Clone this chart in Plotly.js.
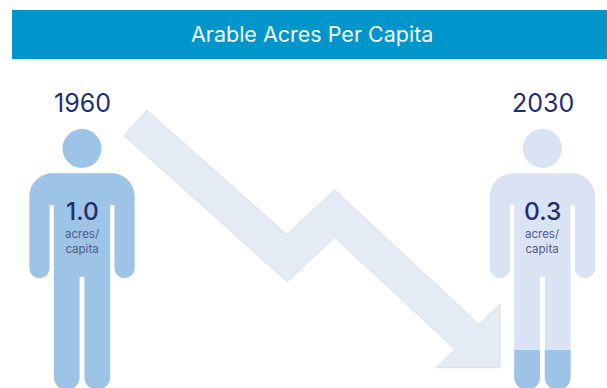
<!DOCTYPE html>
<html>
<head>
<meta charset="utf-8">
<script src="https://cdn.plot.ly/plotly-3.0.1.min.js"></script>
<style>html,body{margin:0;padding:0;background:#fff;overflow:hidden}</style>
</head>
<body>
<div id="chart" style="width:607px;height:388px"></div>
<script>
// Values shown on the graphic
const chartTitle = 'Arable Acres Per Capita';
const years = ['1960', '2030'];
const acresPerCapita = [1.0, 0.3];
const unitLabel = 'acres/<br>capita';
const figureColors = ['#9DC3E6', '#DAE3F3'];
// Share of the 2030 figure's height shaded at the feet
const shadedShare = [1, 0.147];

const NAVY = '#222E6E', MUTED = '#4E5C8E', SHADE = '#9DC3E6';
const figureCentres = [82, 542.4];
const HEAD_TOP = 129, FIGURE_BOTTOM = 388;

// Rounded pictogram outline, relative to the figure's centre line
function bodyPath(c) {
  const k = 0.55, top = 173.3, sh = 52.6, r = 23, arm = 20.2, gap = 28.2;
  const armEnd = 278, pit = 205, crotch = 276.7, inner = 2.4, lr = 13, foot = 390;
  const X = d => (c + d).toFixed(1);
  return [
    `M${X(-sh + r)},${top}`, `L${X(sh - r)},${top}`,
    `C${X(sh - r + r * k)},${top} ${X(sh)},${top + r - r * k} ${X(sh)},${top + r}`,
    `L${X(sh)},${armEnd - arm / 2}`,
    `C${X(sh)},${armEnd - arm / 2 + arm * k / 2} ${X(sh - arm / 2 + arm * k / 2)},${armEnd} ${X(sh - arm / 2)},${armEnd}`,
    `C${X(sh - arm / 2 - arm * k / 2)},${armEnd} ${X(sh - arm)},${armEnd - arm / 2 + arm * k / 2} ${X(sh - arm)},${armEnd - arm / 2}`,
    `L${X(sh - arm)},${pit}`, `L${X(gap)},${pit}`,
    `L${X(gap)},${foot - lr}`,
    `C${X(gap)},${foot - lr + lr * k} ${X(gap - lr + lr * k)},${foot} ${X(gap - lr)},${foot}`,
    `C${X(gap - lr - lr * k)},${foot} ${X(inner)},${foot - lr + lr * k} ${X(inner)},${foot - lr}`,
    `L${X(inner)},${crotch}`, `L${X(-inner)},${crotch}`,
    `L${X(-inner)},${foot - lr}`,
    `C${X(-inner)},${foot - lr + lr * k} ${X(-gap + lr + lr * k)},${foot} ${X(-gap + lr)},${foot}`,
    `C${X(-gap + lr - lr * k)},${foot} ${X(-gap)},${foot - lr + lr * k} ${X(-gap)},${foot - lr}`,
    `L${X(-gap)},${pit}`, `L${X(-sh + arm)},${pit}`,
    `L${X(-sh + arm)},${armEnd - arm / 2}`,
    `C${X(-sh + arm)},${armEnd - arm / 2 + arm * k / 2} ${X(-sh + arm / 2 + arm * k / 2)},${armEnd} ${X(-sh + arm / 2)},${armEnd}`,
    `C${X(-sh + arm / 2 - arm * k / 2)},${armEnd} ${X(-sh)},${armEnd - arm / 2 + arm * k / 2} ${X(-sh)},${armEnd - arm / 2}`,
    `L${X(-sh)},${top + r}`,
    `C${X(-sh)},${top + r - r * k} ${X(-sh + r - r * k)},${top} ${X(-sh + r)},${top}`,
    'Z'
  ].join(' ');
}

// Lower part of one leg, from the shading level down to the rounded foot
function legShade(c, side, level) {
  const inner = 2.4, outer = 28.2, lr = 13, foot = 390, k = 0.55;
  const X = d => (c + side * d).toFixed(1);
  return [
    `M${X(inner)},${level}`, `L${X(outer)},${level}`, `L${X(outer)},${foot - lr}`,
    `C${X(outer)},${foot - lr + lr * k} ${X(outer - lr + lr * k)},${foot} ${X(outer - lr)},${foot}`,
    `C${X(inner + lr - lr * k)},${foot} ${X(inner)},${foot - lr + lr * k} ${X(inner)},${foot - lr}`,
    'Z'
  ].join(' ');
}

const shapes = [
  { type: 'rect', xref: 'x', yref: 'y', x0: 12, x1: 607, y0: 10, y1: 59,
    fillcolor: '#0096CC', line: { width: 0 } }
];
const annotations = [
  { x: 312, y: 33.5, text: chartTitle, font: { size: 21.5, color: '#F4FBFE' } }
];

years.forEach((year, i) => {
  const c = figureCentres[i];
  shapes.push({ type: 'circle', xref: 'x', yref: 'y', x0: c - 19.5, x1: c + 19.5,
    y0: HEAD_TOP, y1: HEAD_TOP + 39, fillcolor: figureColors[i], line: { width: 0 } });
  shapes.push({ type: 'path', xref: 'x', yref: 'y', path: bodyPath(c),
    fillcolor: figureColors[i], line: { width: 0 } });
  if (shadedShare[i] < 1) {
    const level = FIGURE_BOTTOM - shadedShare[i] * (FIGURE_BOTTOM - HEAD_TOP);
    [-1, 1].forEach(side => shapes.push({ type: 'path', xref: 'x', yref: 'y',
      path: legShade(c, side, level), fillcolor: SHADE, line: { width: 0 } }));
  }
  annotations.push({ x: c + 0.5, y: 102.5, text: year, font: { size: 25, color: NAVY } });
  annotations.push({ x: c, y: 210.5, text: acresPerCapita[i].toFixed(1), font: { size: 24.5, color: NAVY, weight: 500 } });
  annotations.push({ x: c, y: 241.5, text: unitLabel, font: { size: 11.5, color: MUTED } });
});

annotations.forEach(a => Object.assign(a, {
  xref: 'x', yref: 'y', showarrow: false, xanchor: 'center', yanchor: 'middle',
  font: Object.assign({ family: 'Inter, "Noto Sans", sans-serif' }, a.font)
}));

// Zig-zag downward arrow between the two figures
const arrowX = [146.7, 286.7, 334.7, 479, 500, 500, 436, 455, 334.7, 287.3, 124, 146.7];
const arrowY = [110, 234.3, 190, 324.3, 304, 367.7, 367.7, 349.3, 237.3, 281.7, 135.7, 110];

Plotly.newPlot('chart', [{
  type: 'scatter', mode: 'lines', x: arrowX, y: arrowY, fill: 'toself',
  fillcolor: '#E5EBF5', line: { color: '#D6D8DC', width: 0.8 },
  hoverinfo: 'skip', showlegend: false
}], {
  width: 607, height: 388,
  margin: { l: 0, r: 0, t: 0, b: 0 },
  paper_bgcolor: '#fff', plot_bgcolor: '#fff',
  xaxis: { range: [0, 607], visible: false, fixedrange: true },
  yaxis: { range: [388, 0], visible: false, fixedrange: true },
  shapes, annotations, showlegend: false
}, { displayModeBar: false, staticPlot: true });
</script>
</body>
</html>
